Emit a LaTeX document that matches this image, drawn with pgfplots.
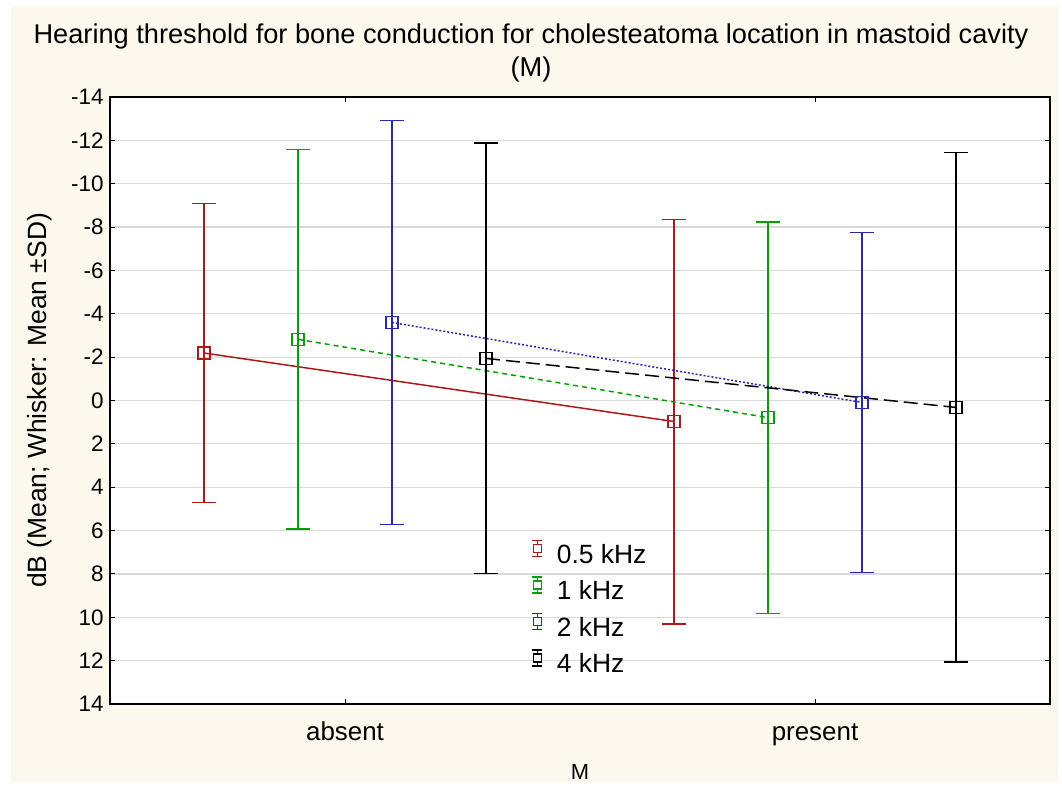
\documentclass[border=0pt]{standalone}
\usepackage{fontspec}
\setmainfont{Liberation Sans}
\usepackage{pgfplots}
\pgfplotsset{compat=1.18}
\definecolor{cream}{HTML}{FDF8EE}
\definecolor{sred}{HTML}{B01818}
\definecolor{sgreen}{HTML}{00A000}
\definecolor{sblue}{HTML}{2828B0}
\definecolor{gridgray}{HTML}{D9D9D9}

\pgfplotstableread{
x y e
-0.3 -2.19 6.90
0.7 0.97 9.33
}\tred
\pgfplotstableread{
x y e
-0.1 -2.82 8.75
0.9 0.79 9.03
}\tgreen
\pgfplotstableread{
x y e
0.1 -3.60 9.31
1.1 0.09 7.85
}\tblue
\pgfplotstableread{
x y e
0.3 -1.94 9.93
1.3 0.32 11.75
}\tblack

\pgfplotsset{
  errimg/.style={legend image code/.code={
    \draw[#1, solid, line width=1.4bp] (0bp,-2bp) -- (0bp,14bp) (-5bp,14bp) -- (5bp,14bp) (-5bp,-2bp) -- (5bp,-2bp);
    \draw[#1, solid, line width=1.4bp, fill=white] (-4bp,2bp) rectangle (4bp,10bp);
  }},
}

\begin{document}
\begin{tikzpicture}[x=1bp,y=1bp]
\path (0,0) rectangle (1062,787);
\fill[cream] (11,5) rectangle (1058,781);
\node[anchor=base, font=\fontsize{27.3}{33}\selectfont] at (531,743) {Hearing threshold for bone conduction for cholesteatoma location in mastoid cavity};
\node[anchor=base, font=\fontsize{27.3}{33}\selectfont] at (531,710) {(M)};
\begin{axis}[
  at={(110bp,83bp)}, anchor=south west,
  scale only axis, width=940bp, height=607bp,
  axis background/.style={fill=white},
  xmin=-0.5, xmax=1.5, ymin=-14, ymax=14,
  y dir=reverse,
  xtick={0,1}, xticklabels={absent,present},
  ytick={-14,-12,...,14},
  tick align=inside, major tick length=5bp,
  xtick pos=both, ytick pos=both,
  ymajorgrids, grid style={gridgray, line width=1.2bp},
  axis line style={line width=1.3bp},
  tick style={black, line width=1bp},
  xticklabel style={font=\fontsize{26}{30}\selectfont, text height=19bp, text depth=5bp, yshift=-14bp},
  yticklabel style={font=\fontsize{22.5}{26}\selectfont, xshift=-3bp},
  /pgf/number format/assume math mode=true,
  xlabel={M}, xlabel style={font=\fontsize{22}{26}\selectfont, at={(axis description cs:0.5,-0.112)}, anchor=center},
  ylabel={dB (Mean; Whisker: Mean ±SD)}, ylabel style={font=\fontsize{26.5}{30}\selectfont, at={(axis description cs:-0.0745,0.5)}, anchor=center},
  legend style={draw=none, fill=none, at={(0.445,0.274)}, anchor=north west, font=\fontsize{26.5}{30}\selectfont, row sep=9.5bp, column sep=12bp},
  legend cell align=left,
  every axis plot/.append style={line width=1.5bp, mark=square, mark size=6bp,
     mark options={solid, fill=white, line width=1.6bp},
     error bars/y dir=both, error bars/y explicit,
     error bars/error bar style={solid, line width=1.5bp},
     error bars/error mark options={rotate=90, mark size=12bp, line width=1.5bp}},
]
\addplot[sred, errimg=sred] table[x=x, y=y, y error=e] {\tred};
\addlegendentry{0.5 kHz}
\addplot[sgreen, dash pattern=on 5bp off 4bp, errimg=sgreen] table[x=x, y=y, y error=e] {\tgreen};
\addlegendentry{1 kHz}
\addplot[sblue, dash pattern=on 2bp off 2bp, errimg=sblue] table[x=x, y=y, y error=e] {\tblue};
\addlegendentry{2 kHz}
\addplot[black, dash pattern=on 14bp off 6bp, errimg=black] table[x=x, y=y, y error=e] {\tblack};
\addlegendentry{4 kHz}
\end{axis}
\end{tikzpicture}
\end{document}
